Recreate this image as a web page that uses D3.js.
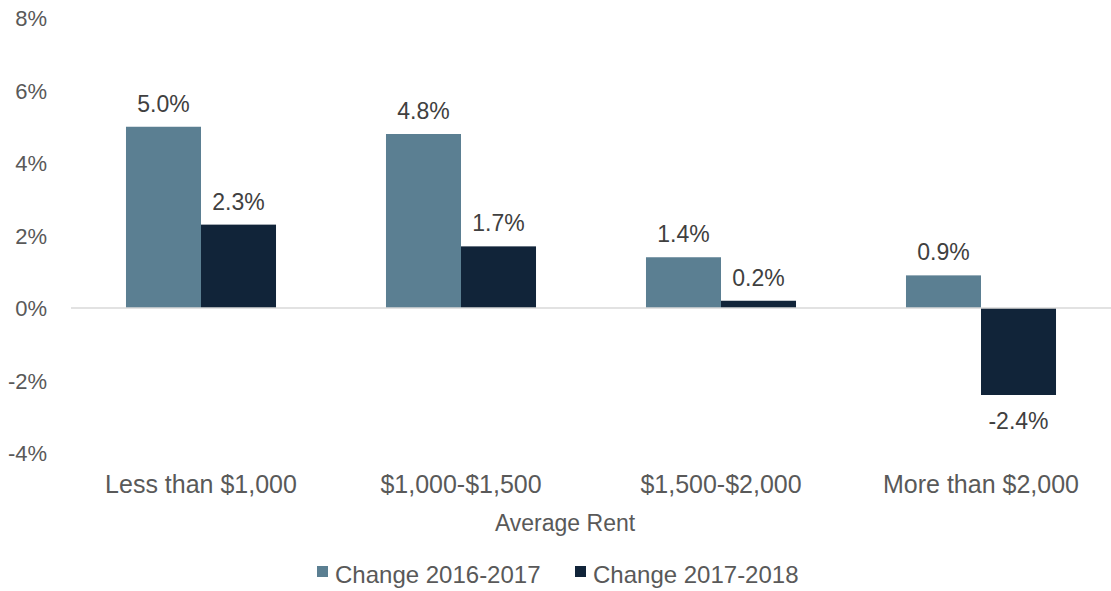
<!DOCTYPE html>
<html>
<head>
<meta charset="utf-8">
<script src="https://cdn.jsdelivr.net/npm/d3@7"></script>
<style>
  html, body { margin: 0; padding: 0; background: #fff; }
  svg { display: block; font-family: 'Liberation Sans', Arial, sans-serif; }
</style>
</head>
<body>
<div id="container"></div>
<script>
const categories = ['Less than $1,000', '$1,000-$1,500', '$1,500-$2,000', 'More than $2,000'];
const seriesNames = ['Change 2016-2017', 'Change 2017-2018'];
const change2016 = [5.0, 4.8, 1.4, 0.9];
const change2017 = [2.3, 1.7, 0.2, -2.4];
const yTicks = [-4, -2, 0, 2, 4, 6, 8];

const w = 1111;
const h = 591;
const plotLeft = 71;
const plotRight = 1111;
const plotTop = 18;
const plotBottom = 453;
const colors = ['#5b7f92', '#112439'];
const textColor = '#595959';

const rows = categories.map((c, i) => ({cat: c, values: [change2016[i], change2017[i]]}));

const svg = d3.select('#container')
  .append('svg')
  .attr('width', w)
  .attr('height', h);

const xScale = d3.scaleBand()
  .domain(categories)
  .range([plotLeft, plotRight])
  .paddingInner(0.423)
  .paddingOuter(0.2115);
const subScale = d3.scaleBand()
  .domain([0, 1])
  .range([0, xScale.bandwidth()]);
const yScale = d3.scaleLinear()
  .domain([-4, 8])
  .range([plotBottom, plotTop]);

// y axis labels only
const yAxis = d3.axisLeft(yScale)
  .tickValues(yTicks)
  .tickSize(0)
  .tickPadding(0)
  .tickFormat(d => d + '%');
const yG = svg.append('g')
  .attr('transform', `translate(47,0)`)
  .call(yAxis);
yG.select('.domain').remove();
yG.selectAll('text')
  .attr('fill', textColor)
  .style('font-size', '22px')
  .attr('dy', '0.35em');

// bars
const groups = svg.selectAll('.group')
  .data(rows)
  .enter()
  .append('g')
  .attr('class', 'group')
  .attr('transform', d => `translate(${xScale(d.cat)},0)`);

groups.selectAll('rect')
  .data(d => d.values.map((v, i) => ({v, i})))
  .enter()
  .append('rect')
  .attr('x', d => subScale(d.i))
  .attr('y', d => yScale(Math.max(0, d.v)))
  .attr('width', subScale.bandwidth())
  .attr('height', d => Math.abs(yScale(d.v) - yScale(0)))
  .attr('fill', d => colors[d.i]);

groups.selectAll('text')
  .data(d => d.values.map((v, i) => ({v, i})))
  .enter()
  .append('text')
  .attr('x', d => subScale(d.i) + subScale.bandwidth() / 2)
  .attr('y', d => d.v >= 0 ? yScale(d.v) - 15 : yScale(d.v) + 34)
  .attr('text-anchor', 'middle')
  .attr('fill', '#404040')
  .style('font-size', '23px')
  .text(d => d.v.toFixed(1) + '%');

// zero line
svg.append('line')
  .attr('x1', plotLeft)
  .attr('x2', plotRight)
  .attr('y1', yScale(0))
  .attr('y2', yScale(0))
  .attr('stroke', '#d9d9d9')
  .attr('stroke-width', 1.5);

// category axis
const xAxis = d3.axisBottom(xScale).tickSize(0).tickPadding(0);
const xG = svg.append('g')
  .attr('transform', `translate(0,${493})`)
  .call(xAxis);
xG.select('.domain').remove();
xG.selectAll('text')
  .attr('dy', 0)
  .attr('fill', textColor)
  .style('font-size', '25px');

svg.append('text')
  .attr('x', 565)
  .attr('y', 531)
  .attr('text-anchor', 'middle')
  .attr('fill', textColor)
  .style('font-size', '23px')
  .text('Average Rent');

// legend
const legendX = [317, 575];
const legend = svg.append('g');
const items = legend.selectAll('g')
  .data(seriesNames)
  .enter()
  .append('g')
  .attr('transform', (d, i) => `translate(${legendX[i]},583)`);
items.append('rect')
  .attr('x', 0)
  .attr('y', -17)
  .attr('width', 11)
  .attr('height', 11)
  .attr('fill', (d, i) => colors[i]);
items.append('text')
  .attr('x', 18)
  .attr('y', 0)
  .attr('fill', textColor)
  .style('font-size', '24px')
  .text(d => d);
</script>
</body>
</html>
